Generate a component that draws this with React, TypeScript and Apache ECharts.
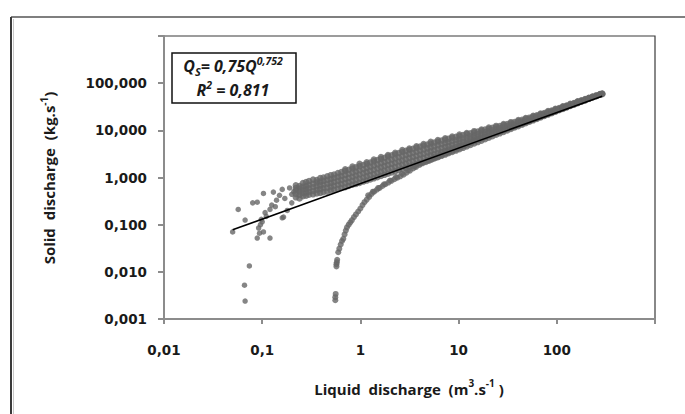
import React, { useEffect, useRef } from "react";
import * as echarts from "echarts";

// Tick labels per decade (x: 0.01 .. 1000, y: 0.001 .. 1000)
const xTickLabels = ["0,01", "0,1", "1", "10", "100", ""];
const yTickLabels = ["0,001", "0,010", "0,100", "1,000", "10,000", "100,000", ""];

// Lower branch (Q, Qs)
const lowerBranch: [number, number][] = [
  [0.555, 0.0025], [0.555, 0.0029], [0.56, 0.0034], [0.57, 0.013], [0.57, 0.0145],
  [0.575, 0.016], [0.58, 0.018], [0.595, 0.026], [0.61, 0.031], [0.63, 0.038],
  [0.65, 0.045], [0.67, 0.05], [0.69, 0.062], [0.71, 0.075], [0.73, 0.088],
  [0.76, 0.1], [0.79, 0.112], [0.82, 0.125], [0.86, 0.145], [0.9, 0.165],
  [0.95, 0.19], [1.0, 0.22], [1.05, 0.26], [1.1, 0.3], [1.16, 0.34],
  [1.23, 0.39], [1.3, 0.45], [1.38, 0.5], [1.47, 0.55], [1.57, 0.6],
  [1.68, 0.66], [1.8, 0.72], [1.93, 0.78], [2.07, 0.85], [2.22, 0.92],
  [2.38, 0.99], [2.55, 1.06], [2.75, 1.15], [2.95, 1.26], [3.2, 1.4],
  [3.45, 1.55], [3.7, 1.68], [4.0, 1.85], [4.3, 2.0], [4.65, 2.12],
  [5.0, 2.25], [5.4, 2.42], [5.85, 2.6], [6.3, 2.78], [6.8, 2.98],
  [7.35, 3.2], [7.95, 3.42], [8.6, 3.65], [9.3, 3.9], [10, 4.15],
  [10.8, 4.45], [11.7, 4.78], [12.6, 5.1], [13.6, 5.45], [14.7, 5.85],
  [15.9, 6.3], [17.2, 6.75], [18.6, 7.25],
  [1.2, 0.42], [1.34, 0.5], [1.52, 0.6], [1.74, 0.72], [2.0, 0.86], [2.3, 1.02],
  [2.65, 1.2], [3.05, 1.42], [3.55, 1.7], [4.1, 1.98], [4.8, 2.34], [5.6, 2.72],
  [6.5, 3.12], [7.6, 3.6], [8.9, 4.12], [10.4, 4.7], [12.2, 5.32], [14.2, 6.0],
];

// Sparse points at the low-Q end (Q, Qs)
const sparsePoints: [number, number][] = [
  [0.05, 0.07], [0.057, 0.21], [0.067, 0.125], [0.066, 0.0052], [0.067, 0.0024], [0.074, 0.0133],
  [0.08, 0.29], [0.089, 0.3], [0.089, 0.052], [0.092, 0.085], [0.094, 0.066], [0.096, 0.1],
  [0.098, 0.13], [0.1, 0.115], [0.103, 0.46], [0.103, 0.07], [0.107, 0.18], [0.11, 0.15],
  [0.12, 0.21], [0.12, 0.052], [0.125, 0.26], [0.13, 0.49], [0.136, 0.24], [0.14, 0.33],
  [0.15, 0.42], [0.16, 0.56], [0.16, 0.14], [0.165, 0.145], [0.17, 0.36], [0.18, 0.2],
  [0.19, 0.6], [0.2, 0.29], [0.2, 0.44], [0.21, 0.5],
];

// Upper dense band: each column is a Q value with the Qs values read at it
const upperColumns: [number, number[]][] = [
  [0.22, [0.38, 0.45, 0.53, 0.6, 0.68]],
  [0.24, [0.36, 0.43, 0.5, 0.58, 0.66]],
  [0.26, [0.4, 0.47, 0.55, 0.64, 0.76]],
  [0.28, [0.41, 0.48, 0.57, 0.66, 0.8]],
  [0.3, [0.43, 0.5, 0.59, 0.7, 0.84]],
  [0.33, [0.44, 0.52, 0.62, 0.74, 0.9]],
  [0.36, [0.46, 0.55, 0.65, 0.78, 0.88]],
  [0.39, [0.47, 0.57, 0.68, 0.82, 0.97]],
  [0.42, [0.49, 0.59, 0.71, 0.85, 1.0]],
  [0.46, [0.5, 0.61, 0.74, 0.89, 1.06]],
  [0.5, [0.53, 0.64, 0.77, 0.93, 1.12]],
  [0.54, [0.55, 0.67, 0.81, 0.98, 1.16]],
  [0.59, [0.57, 0.7, 0.85, 1.03, 1.24]],
  [0.64, [0.6, 0.73, 0.89, 1.08, 1.3]],
  [0.7, [0.62, 0.76, 0.93, 1.13, 1.38, 1.5]],
  [0.76, [0.66, 0.8, 0.98, 1.2, 1.46]],
  [0.83, [0.7, 0.85, 1.04, 1.27, 1.55, 1.7]],
  [0.9, [0.73, 0.9, 1.1, 1.34, 1.64]],
  [0.98, [0.77, 0.95, 1.16, 1.42, 1.74, 1.95]],
  [1.07, [0.82, 1.0, 1.23, 1.5, 1.84]],
  [1.16, [0.86, 1.06, 1.3, 1.6, 1.96, 2.1]],
  [1.26, [0.91, 1.12, 1.38, 1.7, 2.08]],
  [1.37, [0.96, 1.18, 1.46, 1.8, 2.2, 2.4]],
  [1.49, [1.02, 1.25, 1.55, 1.9, 2.34]],
  [1.62, [1.08, 1.33, 1.64, 2.02, 2.48, 2.7]],
  [1.76, [1.14, 1.41, 1.74, 2.14, 2.62]],
  [1.91, [1.2, 1.49, 1.84, 2.27, 2.8, 3.0]],
  [2.08, [1.28, 1.58, 1.95, 2.4, 2.96]],
  [2.26, [1.35, 1.67, 2.06, 2.54, 3.12, 3.35]],
  [2.46, [1.43, 1.77, 2.18, 2.68, 3.3]],
  [2.67, [1.52, 1.87, 2.3, 2.84, 3.5, 3.8]],
  [2.9, [1.6, 1.98, 2.44, 3.0, 3.68]],
  [3.15, [1.7, 2.1, 2.58, 3.16, 3.88, 4.1]],
  [3.42, [1.8, 2.22, 2.72, 3.34, 4.08]],
  [3.72, [1.9, 2.34, 2.88, 3.52, 4.3, 4.6]],
  [4.05, [2.02, 2.48, 3.04, 3.72, 4.52]],
  [4.4, [2.14, 2.62, 3.2, 3.92, 4.76, 5.1]],
  [4.8, [2.27, 2.78, 3.4, 4.14, 5.0]],
  [5.2, [2.4, 2.94, 3.58, 4.36, 5.26, 5.7]],
  [5.65, [2.55, 3.1, 3.78, 4.58, 5.52]],
  [6.15, [2.7, 3.28, 3.98, 4.82, 5.8, 6.2]],
  [6.7, [2.88, 3.48, 4.2, 5.06, 6.08]],
  [7.3, [3.06, 3.68, 4.44, 5.32, 6.36, 6.8]],
  [7.9, [3.26, 3.9, 4.68, 5.6, 6.66]],
  [8.6, [3.48, 4.14, 4.94, 5.88, 6.96, 7.4]],
  [9.4, [3.72, 4.4, 5.22, 6.18, 7.28]],
  [10.2, [3.98, 4.68, 5.5, 6.48, 7.6, 8.1]],
  [11.1, [4.26, 4.98, 5.82, 6.8, 7.94]],
  [12.1, [4.56, 5.3, 6.16, 7.14, 8.3, 8.8]],
  [13.2, [4.9, 5.64, 6.5, 7.5, 8.66]],
  [14.4, [5.26, 6.0, 6.88, 7.88, 9.04, 9.6]],
  [15.7, [5.64, 6.4, 7.28, 8.3, 9.46]],
  [17.1, [6.06, 6.82, 7.7, 8.72, 9.9, 10.4]],
  [18.6, [6.5, 7.26, 8.14, 9.16, 10.34]],
  [20.3, [7.0, 7.74, 8.62, 9.62, 10.8, 11.4]],
  [22.1, [7.5, 8.24, 9.12, 10.12, 11.28]],
  [24.1, [8.06, 8.8, 9.66, 10.66, 11.8, 12.4]],
  [26.3, [8.64, 9.38, 10.24, 11.22, 12.36]],
  [28.7, [9.28, 10.0, 10.86, 11.84, 12.96, 13.6]],
  [31.3, [9.96, 10.68, 11.52, 12.48, 13.6]],
  [34.1, [10.68, 11.4, 12.22, 13.18, 14.28, 14.9]],
  [37.2, [11.46, 12.16, 12.98, 13.92, 15.0]],
  [40.6, [12.3, 13.0, 13.8, 14.74, 15.8, 16.5]],
  [44.3, [13.2, 13.88, 14.68, 15.6, 16.66]],
  [48.3, [14.16, 14.84, 15.62, 16.52, 17.56, 18.3]],
  [52.7, [15.2, 15.86, 16.64, 17.52, 18.54]],
  [57.5, [16.3, 16.96, 17.72, 18.6, 19.6, 20.4]],
  [62.7, [17.5, 18.14, 18.9, 19.76, 20.76]],
  [68.4, [18.76, 19.4, 20.14, 21.0, 22.0, 22.8]],
  [74.6, [20.12, 20.74, 21.48, 22.32, 23.3]],
  [81.4, [21.58, 22.2, 22.92, 23.76, 24.74, 25.6]],
  [88.8, [23.14, 23.76, 24.48, 25.3, 26.26]],
  [96.9, [24.8, 25.4, 26.12, 26.94, 27.9, 28.7]],
  [105.7, [26.6, 27.2, 27.9, 28.7, 29.66]],
  [115.3, [28.5, 29.1, 29.8, 30.6, 31.5, 32.3]],
  [125.8, [30.56, 31.14, 31.84, 32.62, 33.5]],
  [137.2, [32.76, 33.34, 34.02, 34.8, 35.7, 36.4]],
  [149.7, [35.1, 35.68, 36.36, 37.12, 38.0]],
  [163.3, [37.62, 38.2, 38.86, 39.62, 40.5, 41.2]],
  [178.1, [40.32, 40.88, 41.54, 42.3, 43.16]],
  [194.3, [43.2, 43.76, 44.42, 45.16, 46.0]],
  [212, [46.3, 46.86, 47.5, 48.24, 49.1]],
  [231.3, [49.6, 50.16, 50.8, 51.5, 52.3]],
  [252.3, [53.1, 53.66, 54.3, 55.0]],
  [275.2, [56.9, 57.44, 58.06, 58.7]],
  [290, [58.5, 59.5, 60.5]],
];

// Power trendline end points (Qs = 0.75 Q^0.752)
const trendLine: [number, number][] = [
  [0.05, 0.078],
  [290, 53],
];

const upperBand: [number, number][] = upperColumns.flatMap(([q, list]) =>
  list.map((qs) => [q, qs] as [number, number])
);

const decadeIndex = (v: number, offset: number) => Math.round(Math.log10(v)) + offset;

export default function App() {
  const ref = useRef<HTMLDivElement>(null);
  useEffect(() => {
    document.body.style.margin = "0";
    const chart = echarts.init(ref.current!, undefined, { renderer: "svg" });
    const tickFont = { fontFamily: "DejaVu Sans", fontWeight: "bold" as const, fontSize: 13.5, color: "#1a1a1a" };
    const axisGray = "#8c8c8c";
    const pointStyle = { color: "#666666" };
    chart.setOption({
      animation: false,
      backgroundColor: "#ffffff",
      grid: {
        left: 164,
        top: 36,
        right: 30,
        bottom: 95,
        show: true,
        borderColor: "#3a3a3a",
        borderWidth: 1.2,
        backgroundColor: "#ffffff",
      },
      xAxis: {
        type: "log",
        logBase: 10,
        min: 0.01,
        max: 1000,
        axisLine: { show: true, lineStyle: { color: axisGray, width: 2 } },
        axisTick: { show: true, length: 5, lineStyle: { color: axisGray, width: 2 } },
        splitLine: { show: false },
        minorTick: { show: false },
        axisLabel: {
          ...tickFont,
          margin: 24,
          formatter: (v: number) => xTickLabels[decadeIndex(v, 2)] ?? "",
        },
      },
      yAxis: {
        type: "log",
        logBase: 10,
        min: 0.001,
        max: 1000,
        axisLine: { show: true, lineStyle: { color: axisGray, width: 2 } },
        axisTick: { show: true, length: 6, lineStyle: { color: axisGray, width: 2 } },
        splitLine: { show: false },
        axisLabel: {
          ...tickFont,
          margin: 17,
          formatter: (v: number) => yTickLabels[decadeIndex(v, 3)] ?? "",
        },
      },
      series: [
        { type: "scatter", data: sparsePoints, symbol: "circle", symbolSize: 5.5, itemStyle: pointStyle, z: 2 },
        { type: "scatter", data: upperBand, symbol: "circle", symbolSize: 6.5, itemStyle: pointStyle, z: 2 },
        { type: "scatter", data: lowerBranch, symbol: "circle", symbolSize: 6, itemStyle: pointStyle, z: 2 },
        {
          type: "line",
          data: trendLine,
          showSymbol: false,
          symbol: "none",
          lineStyle: { color: "#000000", width: 1.6 },
          z: 3,
        },
      ],
      graphic: [
        { type: "line", shape: { x1: 11, y1: 17, x2: 685, y2: 17 }, style: { stroke: "#7f7f7f", lineWidth: 2 } },
        { type: "line", shape: { x1: 11, y1: 17, x2: 11, y2: 414 }, style: { stroke: "#3a3a3a", lineWidth: 2 } },
        { type: "line", shape: { x1: 13.5, y1: 19, x2: 13.5, y2: 414 }, style: { stroke: "#c8c8c8", lineWidth: 1 } },
        {
          type: "text",
          x: 49,
          y: 178,
          rotation: Math.PI / 2,
          style: {
            text: "{a|Solid  discharge  (kg.s}{sup|-1}{a|)}",
            align: "center",
            verticalAlign: "middle",
            rich: {
              a: { fontFamily: "Open Sans", fontWeight: "bold", fontSize: 15, fill: "#1a1a1a", lineHeight: 20 },
              sup: { fontFamily: "Open Sans", fontWeight: "bold", fontSize: 10, fill: "#1a1a1a", verticalAlign: "top", lineHeight: 20 },
            },
          },
        },
        {
          type: "text",
          x: 409,
          y: 389,
          style: {
            text: "{a|Liquid  discharge  (m}{sup|3}{a|.s}{sup|-1}{a| )}",
            align: "center",
            verticalAlign: "middle",
            rich: {
              a: { fontFamily: "Open Sans", fontWeight: "bold", fontSize: 15, fill: "#1a1a1a", lineHeight: 22 },
              sup: { fontFamily: "Open Sans", fontWeight: "bold", fontSize: 10, fill: "#1a1a1a", verticalAlign: "top", lineHeight: 22 },
            },
          },
        },
        {
          type: "rect",
          shape: { x: 172, y: 53, width: 124, height: 50 },
          style: { fill: "#ffffff", stroke: "#111111", lineWidth: 1.5 },
          z: 10,
        },
        {
          type: "text",
          x: 233,
          y: 66,
          z: 11,
          style: {
            text: "{a|Q}{sub|S}{a|= 0,75Q}{sup|0,752}",
            align: "center",
            verticalAlign: "middle",
            rich: {
              a: { fontFamily: "Open Sans", fontWeight: "bold", fontStyle: "italic", fontSize: 16, fill: "#1a1a1a", lineHeight: 22 },
              sub: { fontFamily: "Open Sans", fontWeight: "bold", fontStyle: "italic", fontSize: 11, fill: "#1a1a1a", verticalAlign: "bottom", lineHeight: 20 },
              sup: { fontFamily: "Open Sans", fontWeight: "bold", fontStyle: "italic", fontSize: 10.5, fill: "#1a1a1a", verticalAlign: "top", lineHeight: 22 },
            },
          },
        },
        {
          type: "text",
          x: 233,
          y: 90,
          z: 11,
          style: {
            text: "{a|R}{sup|2}{a| = 0,811}",
            align: "center",
            verticalAlign: "middle",
            rich: {
              a: { fontFamily: "Open Sans", fontWeight: "bold", fontStyle: "italic", fontSize: 16, fill: "#1a1a1a", lineHeight: 22 },
              sup: { fontFamily: "Open Sans", fontWeight: "bold", fontStyle: "italic", fontSize: 10.5, fill: "#1a1a1a", verticalAlign: "top", lineHeight: 22 },
            },
          },
        },
      ],
    });
    return () => chart.dispose();
  }, []);
  return <div ref={ref} style={{ width: 685, height: 414 }} />;
}
